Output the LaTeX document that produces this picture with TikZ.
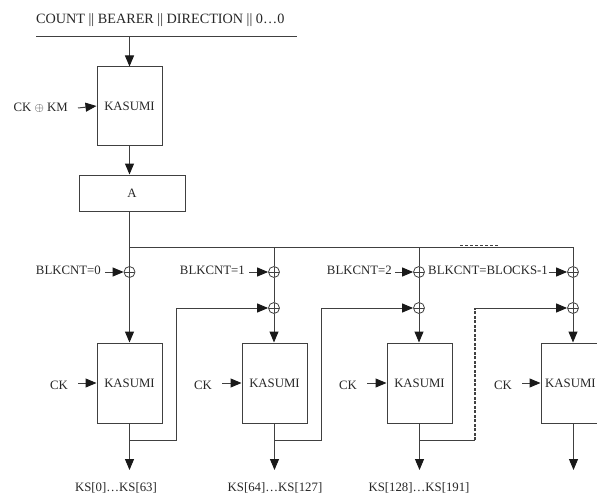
\documentclass[tikz,border=0pt]{standalone}
\usepackage{fontspec}
\setmainfont{Liberation Serif}
\usetikzlibrary{arrows.meta}
\definecolor{lc}{gray}{0.25}
\definecolor{tc}{gray}{0.15}
\tikzset{
  box/.style={draw=lc, line width=1pt, inner sep=0, font=\fontsize{12.8}{14}\selectfont, text=tc},
  xor/.style={circle, draw=lc, line width=0.8pt, minimum size=11pt, inner sep=0,
    path picture={\draw[lc, line width=0.8pt] (path picture bounding box.north)--(path picture bounding box.south)
      (path picture bounding box.west)--(path picture bounding box.east);}},
  arr/.style={draw=lc, line width=1pt, -{Triangle[length=11pt,width=9pt,color=black!90]}},
  ln/.style={draw=lc, line width=1pt},
  lbl/.style={font=\fontsize{12.8}{14}\selectfont, text=tc, inner sep=0}
}
\begin{document}
\begin{tikzpicture}[x=1pt,y=-1pt]
\useasboundingbox (0,0) rectangle (597,495);
\clip (0,0) rectangle (597,495);
% header
\node[lbl, anchor=base west, font=\fontsize{14.2}{16}\selectfont] (hdr) at (36,24) {COUNT || BEARER || DIRECTION || 0\ldots0};
\coordinate (hl) at (36,37);
\coordinate (hr) at (297,37);
\coordinate (h0) at (129.5,37);
\draw[ln] (hl) -- (hr);
% first kasumi
\node[box, minimum width=65pt, minimum height=78pt] (k0) at (129.5,106) {KASUMI};
\draw[arr] (h0) -- (k0.north);
\node[lbl, anchor=east] (ckkm) at (68,108) {CK $\oplus$ KM};
\draw[arr] ([xshift=10pt]ckkm.east) -- (k0.west);
\node[box, minimum width=106pt, minimum height=36pt] (A) at (132,193) {A};
\draw[arr] (k0.south) -- (k0.south |- A.north);
% bus
\coordinate (b0) at (129.5,247);
\coordinate (b3) at (573,247);
\draw[ln] (A.south -| k0) -- (b0);
\draw[ln] (b0) -- (b3);
\draw[ln, line width=1.3pt, dash pattern=on 3pt off 2pt] (460,245.5) -- (498,245.5);
% xor row 1
\node[xor] (x1) at (129.5,272) {};
\node[xor] (x2) at (274,272) {};
\node[xor] (x3) at (419,272) {};
\node[xor] (x4) at (573,272) {};
% xor row 2
\node[xor] (y2) at (274,308) {};
\node[xor] (y3) at (419,308) {};
\node[xor] (y4) at (573,308) {};
% kasumi boxes
\node[box, minimum width=65pt, minimum height=80pt] (k1) at (129.5,383) {KASUMI};
\node[box, minimum width=65pt, minimum height=80pt] (k2) at (274.5,383) {KASUMI};
\node[box, minimum width=65pt, minimum height=80pt] (k3) at (419.5,383) {KASUMI};
\node[box, minimum width=65pt, minimum height=80pt] (k4) at (573.5,383) {};
\node[lbl, anchor=west] (k4t) at (545,383) {KASUMI};
% bus to xors
\draw[ln] (b0) -- (x1.north);
\draw[ln] (b0 -| x2) -- (x2.north);
\draw[ln] (b0 -| x3) -- (x3.north);
\draw[ln] (b3) -- (x4.north);
% columns
\draw[arr] (x1.south) -- (x1.south |- k1.north);
\draw[ln] (x2.south) -- (y2.north);
\draw[ln] (x3.south) -- (y3.north);
\draw[ln] (x4.south) -- (y4.north);
\draw[arr] (y2.south) -- (y2.south |- k2.north);
\draw[arr] (y3.south) -- (y3.south |- k3.north);
\draw[arr] (y4.south) -- (y4.south |- k4.north);
% blkcnt labels
\node[lbl, anchor=east] (l1) at (101,270) {BLKCNT=0};
\node[lbl, anchor=east] (l2) at (245,270) {BLKCNT=1};
\node[lbl, anchor=east] (l3) at (392,270) {BLKCNT=2};
\node[lbl, anchor=east] (l4) at (548,270) {BLKCNT=BLOCKS-1};
\draw[arr] ([xshift=4pt]l1.east |- x1) -- (x1.west);
\draw[arr] ([xshift=4pt]l2.east |- x2) -- (x2.west);
\draw[arr] ([xshift=3pt]l3.east |- x3) -- (x3.west);
\draw[arr] ([xshift=0.5pt]l4.east |- x4) -- (x4.west);
% CK labels
\node[lbl, anchor=east] (c1) at (68,385) {CK};
\node[lbl, anchor=east] (c2) at (212,385) {CK};
\node[lbl, anchor=east] (c3) at (357,385) {CK};
\node[lbl, anchor=east] (c4) at (512,385) {CK};
\draw[arr] ([xshift=10pt]c1.east |- k1) -- (k1.west);
\draw[arr] ([xshift=10pt]c2.east |- k2) -- (k2.west);
\draw[arr] ([xshift=10pt]c3.east |- k3) -- (k3.west);
\draw[arr] ([xshift=10pt]c4.east |- k4) -- (k4.west);
% feedback
\coordinate (f1) at (129.5,440);
\coordinate (g1) at (176,440);
\coordinate (f2) at (274.5,440);
\coordinate (g2) at (321,440);
\coordinate (f3) at (419.5,440);
\coordinate (g3) at (475,440);
\draw[arr] (f1) -- (g1) |- (y2.west);
\draw[arr] (f2) -- (g2) |- (y3.west);
\draw[ln] (f3) -- (g3);
\draw[ln, line width=1.3pt, dash pattern=on 3pt off 1.5pt] (g3) -- (g3 |- y4);
\draw[arr] (g3 |- y4) -- (y4.west);
% outputs
\coordinate (o1) at (129.5,470);
\coordinate (o2) at (274.5,470);
\coordinate (o3) at (419.5,470);
\coordinate (o4) at (573.5,470);
\draw[arr] (k1.south) -- (o1);
\draw[arr] (k2.south) -- (o2);
\draw[arr] (k3.south) -- (o3);
\draw[arr] (k4.south) -- (o4);
\node[lbl, anchor=base] (ks1) at (116,491) {KS[0]\ldots KS[63]};
\node[lbl, anchor=base] (ks2) at (275,491) {KS[64]\ldots KS[127]};
\node[lbl, anchor=base] (ks3) at (419,491) {KS[128]\ldots KS[191]};
\end{tikzpicture}
\end{document}
